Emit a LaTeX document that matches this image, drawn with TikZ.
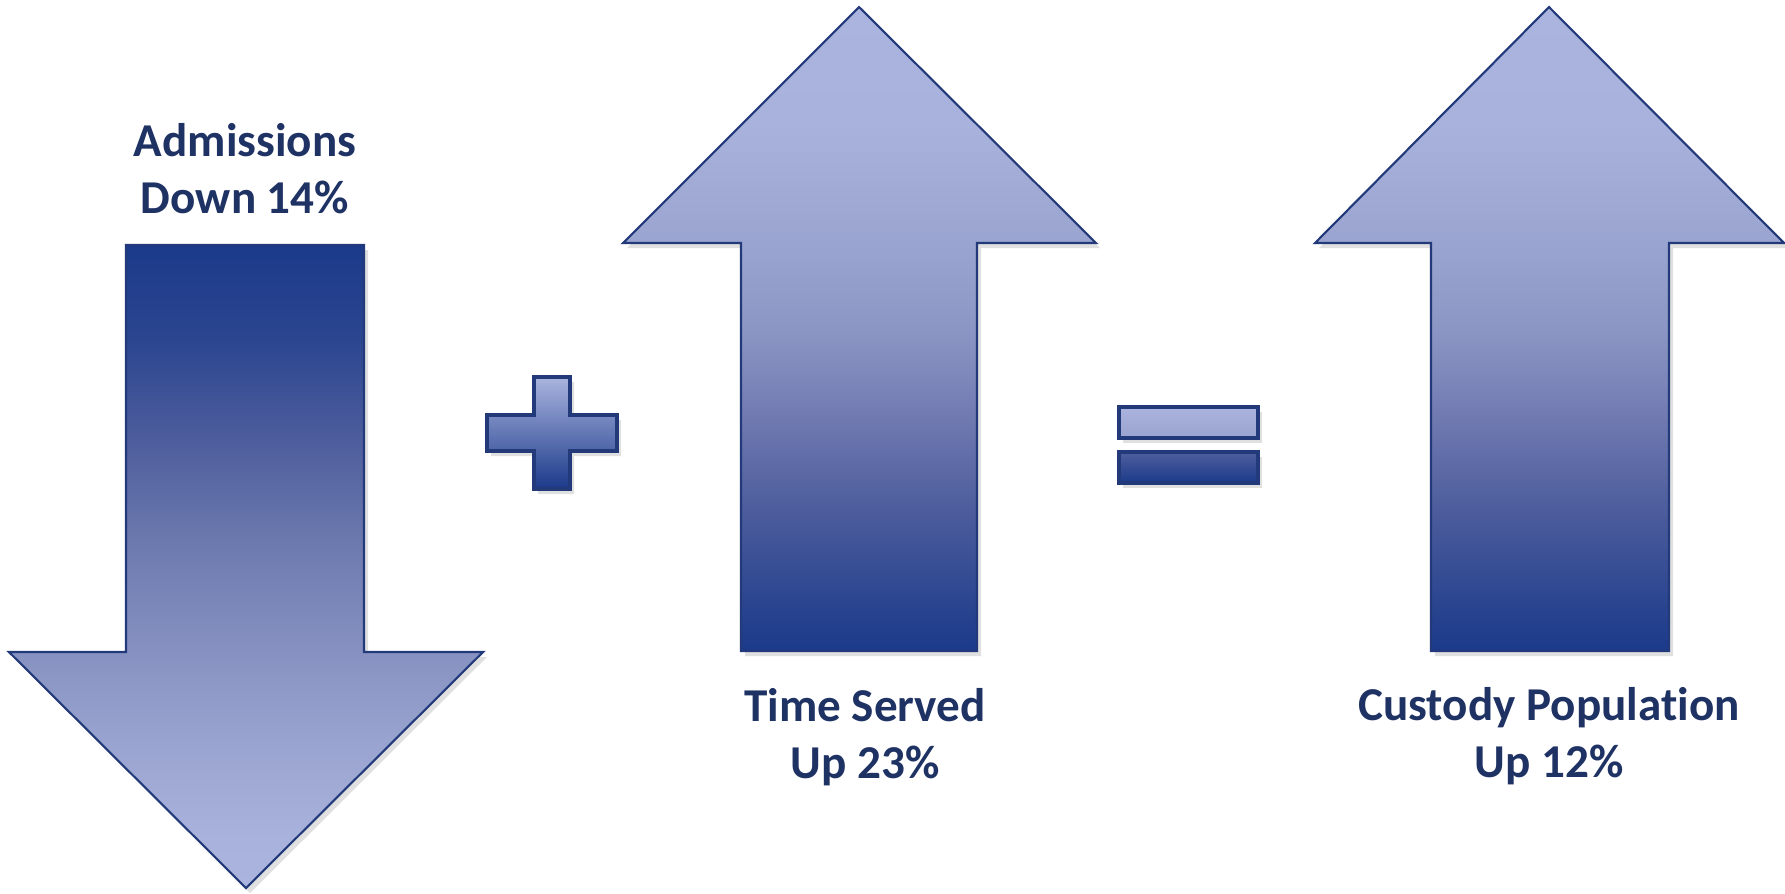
\documentclass[tikz,border=0pt]{standalone}
\usepackage{fontspec}
\setmainfont{Carlito}[Ligatures=NoCommon]
\usetikzlibrary{shadows}
\definecolor{arrowlight}{HTML}{AAB4DE}
\definecolor{arrowmid}{HTML}{8C96C4}
\definecolor{arrowdark}{HTML}{1B3A8A}
\definecolor{arrowedge}{HTML}{22397A}
\definecolor{labeltext}{HTML}{1F3264}
\definecolor{tone1}{HTML}{2C4690}
\definecolor{tone2}{HTML}{4F5E9D}
\definecolor{tone3}{HTML}{6C79AE}
\definecolor{tone4}{HTML}{7780B5}
\definecolor{tone5}{HTML}{8590C0}
\definecolor{tone6}{HTML}{99A3CF}
\definecolor{tone7}{HTML}{A8B2DC}
\pgfdeclareverticalshading{risefill}{100bp}{color(0bp)=(arrowdark); color(25bp)=(arrowdark);
  color(29bp)=(tone1); color(36.5bp)=(tone2); color(44.5bp)=(tone4); color(50bp)=(arrowmid);
  color(56bp)=(tone6); color(66bp)=(tone7); color(75bp)=(arrowlight); color(100bp)=(arrowlight)}
\pgfdeclareverticalshading{fallfill}{100bp}{color(0bp)=(arrowlight); color(25bp)=(arrowlight);
  color(29bp)=(tone7); color(36.5bp)=(tone6); color(44bp)=(tone5); color(52bp)=(tone3);
  color(59.5bp)=(tone2); color(67.5bp)=(tone1); color(75bp)=(arrowdark); color(100bp)=(arrowdark)}
\tikzset{
  symbolbox/.style={draw=arrowedge, line width=0.6pt, line join=miter,
    drop shadow={shadow xshift=0.4mm, shadow yshift=-0.5mm, fill=black, opacity=0.12}},
  uparrow/.style={symbolbox, shading=risefill},
  downarrow/.style={symbolbox, shading=fallfill},
  lbl/.style={text=labeltext, align=center, font=\bfseries\fontsize{13.4}{16.2}\selectfont}
}
\begin{document}
\begin{tikzpicture}[x=0.01cm, y=-0.01cm]
  \useasboundingbox (0,0) rectangle (1785,893);
  \shade[downarrow] (126,245) -- (364,245) -- (364,652) -- (483,652) -- (246,888)
    -- (9,652) -- (126,652) -- cycle;
  \shade[uparrow] (741,651) -- (741,243) -- (623,243) -- (859,7) -- (1096,243)
    -- (977,243) -- (977,651) -- cycle;
  \shade[uparrow] (1431,651) -- (1431,243) -- (1315,243) -- (1549,7) -- (1784,243)
    -- (1669,243) -- (1669,651) -- cycle;
  \shade[symbolbox, line width=0.9pt, top color=arrowlight, middle color=tone5, bottom color=arrowdark]
    (534,377) -- (570,377) -- (570,415) -- (617,415) -- (617,451)
    -- (570,451) -- (570,489) -- (534,489) -- (534,451) -- (487,451) -- (487,415)
    -- (534,415) -- cycle;
  \shade[symbolbox, line width=0.9pt, top color=arrowlight, bottom color=tone6] (1119,407) rectangle (1258,438);
  \shade[symbolbox, line width=0.9pt, top color=tone2, bottom color=arrowdark] (1119,452) rectangle (1258,483);
  \node[lbl] (admissions) at (245,169) {Admissions\\Down 14\%};
  \node[lbl] (timeserved) at (865,737) {Time Served\\Up 23\%};
  \node[lbl] (custody) at (1549,736) {Custody Population\\Up 12\%};
\end{tikzpicture}
\end{document}
